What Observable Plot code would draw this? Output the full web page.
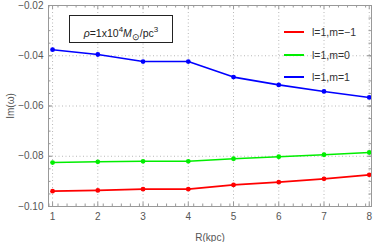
<!DOCTYPE html>
<html>
<head>
<meta charset="utf-8">
<script src="https://cdn.jsdelivr.net/npm/d3@7"></script>
<script src="https://cdn.jsdelivr.net/npm/@observablehq/plot@0.6"></script>
<style>
  body { margin: 0; background: #fff; font-family: "Liberation Sans", Arial, sans-serif; }
  #wrap { position: relative; width: 374px; height: 242px; }
  #box { position: absolute; left: 69px; top: 15px; width: 104px; height: 28px; border: 1.5px solid #222; background: #fff;
         font-size: 10.5px; color: #222; line-height: 28px; text-align: center; box-sizing: border-box; }
  #legend { position: absolute; left: 284px; top: 25px; font-size: 10.5px; color: #333; }
  .row { position: relative; height: 22.5px; }
  .sw { position: absolute; left: 0; top: 6px; width: 20px; height: 2px; }
  .lb { position: absolute; left: 28px; top: 0; line-height: 14px; white-space: nowrap; }
</style>
</head>
<body>
<div id="wrap"></div>
<script>
const R = [1, 2, 3, 4, 5, 6, 7, 8];
const imM1 = [-0.0939, -0.0936, -0.0931, -0.0931, -0.0914, -0.0903, -0.0890, -0.0874];
const imM0 = [-0.0825, -0.0822, -0.0820, -0.0820, -0.0810, -0.0802, -0.0794, -0.0785];
const imP1 = [-0.0376, -0.0395, -0.0423, -0.0423, -0.0485, -0.0516, -0.0542, -0.0566];
const seriesNames = ["l=1,m=\u22121", "l=1,m=0", "l=1,m=1"];
const seriesColors = ["#ff0000", "#00ee00", "#0000ff"];
const xTicks = [1, 2, 3, 4, 5, 6, 7, 8];
const yTicks = [-0.10, -0.08, -0.06, -0.04, -0.02];
const xMinor = d3.range(0.92, 8.05, 0.2).map(v => +v.toFixed(2)).filter(v => !xTicks.includes(Math.round(v*100)/100));
const yMinor = d3.range(-0.1, -0.0199, 0.005).map(v => +v.toFixed(3));

const seriesVals = [imM1, imM0, imP1];
const data = seriesVals.flatMap((vals, i) => R.map((r, j) => ({r, v: vals[j], s: seriesNames[i]})));

const W = 374, H = 242, mt = 5, mb = 36, ml = 48, mr = 3;
const fw = W - ml - mr, fh = H - mt - mb;
const grid = "#b8b8b8", axc = "#999";

const chart = Plot.plot({
  width: W, height: H,
  marginTop: mt, marginBottom: mb, marginLeft: ml, marginRight: mr,
  style: {fontFamily: "Liberation Sans, Arial, sans-serif", fontSize: "10px", color: "#555", background: "#fff"},
  x: {domain: [0.91, 8.05]},
  y: {domain: [-0.1, -0.02]},
  color: {domain: seriesNames, range: seriesColors},
  marks: [
    Plot.gridX(xTicks, {stroke: grid, strokeOpacity: 1, strokeDasharray: "1,2.5"}),
    Plot.gridY(yTicks, {stroke: grid, strokeOpacity: 1, strokeDasharray: "1,2.5"}),
    Plot.tickX(xTicks, {x: d => d, insetTop: fh - 4, stroke: axc}),
    Plot.tickX(xTicks, {x: d => d, insetBottom: fh - 4, stroke: axc}),
    Plot.tickX(xMinor, {x: d => d, insetTop: fh - 2.5, stroke: axc}),
    Plot.tickX(xMinor, {x: d => d, insetBottom: fh - 2.5, stroke: axc}),
    Plot.tickY(yTicks, {y: d => d, insetRight: fw - 4, stroke: axc}),
    Plot.tickY(yTicks, {y: d => d, insetLeft: fw - 4, stroke: axc}),
    Plot.tickY(yMinor, {y: d => d, insetRight: fw - 2.5, stroke: axc}),
    Plot.tickY(yMinor, {y: d => d, insetLeft: fw - 2.5, stroke: axc}),
    Plot.axisX({ticks: xTicks, tickSize: 0, tickPadding: 6, label: "R(kpc)", labelAnchor: "center", labelOffset: 34, labelArrow: "none", fill: "#555"}),
    Plot.axisY({ticks: yTicks, tickSize: 0, tickPadding: 5, tickFormat: d3.format(".2f"), label: "Im(\u03c9)", labelAnchor: "center", labelOffset: 42, labelArrow: "none", fill: "#555"}),
    Plot.line(data, {x: "r", y: "v", z: "s", stroke: "s", strokeWidth: 1.6}),
    Plot.dot(data, {x: "r", y: "v", fill: "s", r: 2.4}),
    Plot.frame({stroke: axc, strokeWidth: 1})
  ]
});

const wrap = document.getElementById("wrap");
wrap.appendChild(chart);

const box = document.createElement("div");
box.id = "box";
box.innerHTML = '<i>\u03c1</i>=1x10<sup style="font-size:8px">4</sup><i>M</i><sub style="font-size:8.5px">\u2299</sub>/pc<sup style="font-size:8px">3</sup>';
wrap.appendChild(box);

const legend = document.createElement("div");
legend.id = "legend";
seriesNames.forEach((n, i) => {
  const row = document.createElement("div");
  row.className = "row";
  row.innerHTML = `<div class="sw" style="background:${seriesColors[i]}"></div><div class="lb">${n}</div>`;
  legend.appendChild(row);
});
wrap.appendChild(legend);
</script>
</body>
</html>
